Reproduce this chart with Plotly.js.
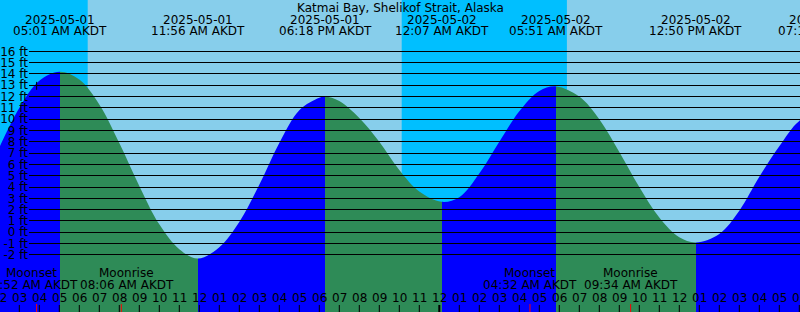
<!DOCTYPE html>
<html>
<head>
<meta charset="utf-8">
<script src="https://cdn.plot.ly/plotly-3.0.1.min.js"></script>
<style>
html,body{margin:0;padding:0;background:#87CEEB;overflow:hidden;}
#chart{width:800px;height:312px;}
</style>
</head>
<body>
<div id="chart"></div>
<script>
// All times are hours since 2025-05-01 00:00 AKDT
const stationName = "Katmai Bay, Shelikof Strait, Alaska";

// Tide curve (feet)
const curveHours = [2,3,4,5.017,6,7,8,9,10,11,11.933,13,14,15,16,17,18,18.3,19,20,21,22,23,24.117,25,26,27,28,29,29.85,31,32,33,34,35,36,36.833,38,39,40,41,42,43.25];
const curveFeet  = [7.5,11.0,13.4,14.2,13.5,11.3,7.9,4.1,0.7,-1.5,-2.33,-1.33,0.9,4.2,7.9,10.8,11.9,12.0,11.6,10.1,8.0,5.5,3.6,2.69,3.1,5.2,8.0,10.7,12.5,12.9,12.0,10.0,7.1,4.0,1.3,-0.45,-0.9,-0.15,1.9,4.9,7.6,9.85,10.9];

// High / low tide events
const extremeHours = [5.017, 11.933, 18.3, 24.117, 29.85, 36.833, 43.25];
const extremeFeet  = [14.2, -2.33, 12.0, 2.69, 12.9, -0.9, 10.9];
const extremeDates = ["2025-05-01","2025-05-01","2025-05-01","2025-05-02","2025-05-02","2025-05-02","2025-05-02"];
const extremeTimes = ["05:01 AM AKDT","11:56 AM AKDT","06:18 PM AKDT","12:07 AM AKDT","05:51 AM AKDT","12:50 PM AKDT","07:15 PM AKDT"];

// Moon events
const moonHours = [3.867, 8.1, 28.533, 33.567];
const moonNames = ["Moonset","Moonrise","Moonset","Moonrise"];
const moonTimes = ["03:52 AM AKDT","08:06 AM AKDT","04:32 AM AKDT","09:34 AM AKDT"];
const moonLabelShift = [-5.6, 5.7, 0, 0];

// Night intervals (sunset -> sunrise)
const nightStartHours = [-2.0, 22.12];
const nightEndHours   = [6.42, 30.38];

// Axis ticks
const footTicks = [-2,-1,0,1,2,3,4,5,6,7,8,9,10,11,12,13,14,15,16];
const footLabels = ["-2 ft","-1 ft","0 ft","1 ft","2 ft","3 ft","4 ft","5 ft","6 ft","7 ft","8 ft","9 ft","10 ft","11 ft","12 ft","13 ft","14 ft","15 ft","16 ft"];
const hourTicks = [2,3,4,5,6,7,8,9,10,11,12,13,14,15,16,17,18,19,20,21,22,23,24,25,26,27,28,29,30,31,32,33,34,35,36,37,38,39,40,41,42];
const hourLabels = ["02","03","04","05","06","07","08","09","10","11","12","01","02","03","04","05","06","07","08","09","10","11","12","01","02","03","04","05","06","07","08","09","10","11","12","01","02","03","04","05","06"];
const midnightHours = [24];

// Styling
const DAY = "#87CEEB", NIGHT = "#00BFFF", FLOOD = "#0000FF", EBB = "#2E8B57";
const FONT = {family: "DejaVu Sans", size: 12, color: "#000000"};
const T0 = 2.035, T1 = 42.035;
const Y0 = -7.05, Y1 = 20.54;
const H = 312;

function px(t) { return (t - T0) / (T1 - T0); }
function py(yPixel) { return 1 - yPixel / H; }

// Fill colour gradient: flood while rising, ebb while falling
const cStart = curveHours[0], cStop = curveHours[curveHours.length - 1];
const colorscale = [];
let prevFrac = 0, prevVal = curveFeet[0];
for (let i = 0; i < extremeHours.length; i++) {
  const f = Math.min(1, (extremeHours[i] - cStart) / (cStop - cStart));
  const col = extremeFeet[i] > prevVal ? FLOOD : EBB;
  colorscale.push([prevFrac, col]);
  colorscale.push([f, col]);
  prevFrac = f; prevVal = extremeFeet[i];
}
colorscale[colorscale.length - 1][0] = 1;

const traces = [
  {x: [cStart, cStop], y: [Y0, Y0], mode: "lines", line: {width: 0}, hoverinfo: "skip", showlegend: false, xaxis: "x", yaxis: "y"},
  {x: curveHours, y: curveFeet, mode: "lines", line: {width: 0, shape: "spline"}, fill: "tonexty",
   fillgradient: {type: "horizontal", start: cStart, stop: cStop, colorscale: colorscale},
   hoverinfo: "skip", showlegend: false, xaxis: "x", yaxis: "y"},
  {x: [], y: [], mode: "lines", xaxis: "x2", yaxis: "y2", showlegend: false, hoverinfo: "skip"}
];

const shapes = [];
for (let i = 0; i < nightStartHours.length; i++) {
  shapes.push({type: "rect", xref: "x", yref: "paper", x0: nightStartHours[i], x1: nightEndHours[i], y0: 0, y1: 1,
    fillcolor: NIGHT, line: {width: 0}, layer: "below"});
}
hourTicks.forEach(t => {
  const thick = midnightHours.indexOf(t) >= 0;
  shapes.push({type: "line", xref: "x", yref: "paper", x0: t, x1: t, y0: 0, y1: 7 / H,
    line: {color: "#000000", width: thick ? 2 : 1}, layer: "above"});
});
moonHours.forEach(t => {
  shapes.push({type: "line", xref: "x", yref: "paper", x0: t, x1: t, y0: 0, y1: 8 / H,
    line: {color: "#FF0000", width: 1}, layer: "above"});
});
// small marker on the 13 ft line at first moonset
shapes.push({type: "line", xref: "x", yref: "y", x0: moonHours[0], x1: moonHours[0], y0: 12.6, y1: 13.3,
  line: {color: "#000000", width: 1}, layer: "above"});

const annotations = [];
annotations.push({text: stationName, xref: "paper", yref: "paper", x: 0.5, y: py(7.5), xanchor: "center", yanchor: "middle", showarrow: false, font: FONT});
for (let i = 0; i < extremeHours.length; i++) {
  annotations.push({text: extremeDates[i], xref: "paper", yref: "paper", x: px(extremeHours[i]), y: py(20), xanchor: "center", yanchor: "middle", showarrow: false, font: FONT});
  annotations.push({text: extremeTimes[i], xref: "paper", yref: "paper", x: px(extremeHours[i]), y: py(31.5), xanchor: "center", yanchor: "middle", showarrow: false, font: FONT});
}
for (let i = 0; i < moonHours.length; i++) {
  annotations.push({text: moonNames[i], xref: "paper", yref: "paper", x: px(moonHours[i]), xshift: moonLabelShift[i], y: py(273), xanchor: "center", yanchor: "middle", showarrow: false, font: FONT});
  annotations.push({text: moonTimes[i], xref: "paper", yref: "paper", x: px(moonHours[i]), xshift: moonLabelShift[i], y: py(285), xanchor: "center", yanchor: "middle", showarrow: false, font: FONT});
}
for (let i = 0; i < hourTicks.length; i++) {
  annotations.push({text: hourLabels[i], xref: "paper", yref: "paper", x: px(hourTicks[i]), y: py(298), xanchor: "center", yanchor: "middle", showarrow: false, font: FONT});
}

const layout = {
  width: 800, height: 312,
  margin: {l: 0, r: 0, t: 0, b: 0, pad: 0},
  paper_bgcolor: DAY, plot_bgcolor: "rgba(0,0,0,0)",
  showlegend: false,
  xaxis: {range: [T0, T1], visible: false, fixedrange: true},
  yaxis: {range: [Y0, Y1], visible: false, fixedrange: true},
  xaxis2: {domain: [29 / 800, 1], range: [0, 1], anchor: "y2", showgrid: false, zeroline: false, showline: false, showticklabels: false, ticks: "", fixedrange: true},
  yaxis2: {domain: [0, 1], range: [Y0, Y1], anchor: "x2", tickmode: "array", tickvals: footTicks, ticktext: footLabels,
    showgrid: true, gridcolor: "#000000", gridwidth: 1, zeroline: false, showline: false, ticks: "",
    tickfont: FONT, fixedrange: true},
  shapes: shapes,
  annotations: annotations
};

Plotly.newPlot("chart", traces, layout, {displayModeBar: false, staticPlot: true});
</script>
</body>
</html>
